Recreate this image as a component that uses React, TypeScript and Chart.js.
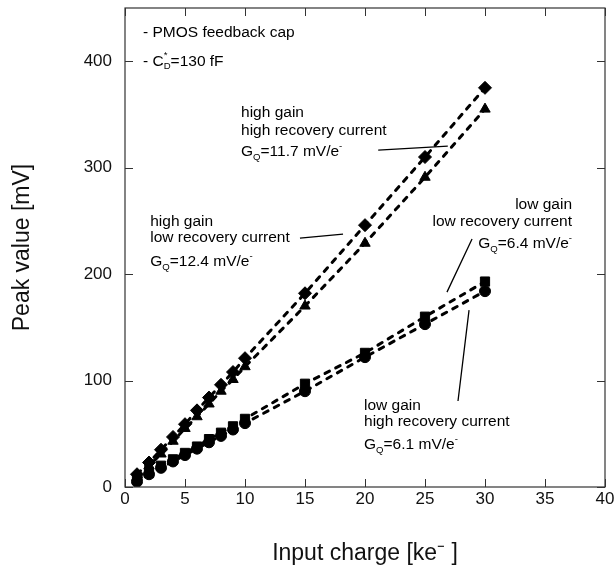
import React, { useEffect, useRef } from "react";
import { Chart, registerables } from "chart.js";

Chart.register(...registerables);

const FONT = "'Liberation Sans', Arial, Helvetica, sans-serif";

// Input charge [ke-]
const charge = [1, 2, 3, 4, 5, 6, 7, 8, 9, 10, 15, 20, 25, 30];
// high gain, low recovery current (diamonds)
const highGainLowRec = [12, 23, 35, 47, 59, 72, 84, 96, 108, 121, 182, 246, 310, 375];
// high gain, high recovery current (triangles)
const highGainHighRec = [9, 20, 31, 43, 55, 66, 78, 90, 101, 113, 170, 229, 291, 355];
// low gain, low recovery current (squares)
const lowGainLowRec = [7, 13, 20, 26, 32, 38, 45, 51, 57, 64, 97, 126, 160, 193];
// low gain, high recovery current (circles)
const lowGainHighRec = [5, 12, 18, 24, 30, 36, 42, 48, 54, 60, 90, 122, 153, 184];

const xTitle = "Input charge [ke\u207B ]";
const yTitle = "Peak value [mV]";

// annotation texts, anchored in data units
const noteTexts = [
  "- PMOS feedback cap",
  "- C_{D}^{*}=130 fF",
  "high gain",
  "high recovery current",
  "G_{Q}=11.7 mV/e^{-}",
  "high gain",
  "low recovery current",
  "G_{Q}=12.4 mV/e^{-}",
  "low gain",
  "low recovery current",
  "G_{Q}=6.4 mV/e^{-}",
  "low gain",
  "high recovery current",
  "G_{Q}=6.1 mV/e^{-}",
];
const noteX = [1.5, 1.5, 9.67, 9.67, 9.67, 2.1, 2.1, 2.1, 37.25, 37.25, 37.25, 19.92, 19.92, 19.92];
const noteY = [427, 400, 352, 335, 314.6, 248.8, 233.8, 211.3, 264.8, 248.8, 228.2, 76.1, 61, 39.4];
const noteAlign = ["left", "left", "left", "left", "left", "left", "left", "left", "right", "right", "right", "left", "left", "left"];

// pointer lines [x1, y1, x2, y2] in data units
const pointers = [
  [21.1, 316.4, 26.9, 320.2],
  [14.58, 233.8, 18.17, 237.6],
  [28.92, 232.9, 26.83, 183.1],
  [28.67, 166.2, 27.75, 80.8],
];

type Seg = { t: string; k: "n" | "sub" | "sup" };

function parseRich(s: string): Seg[] {
  const out: Seg[] = [];
  const re = /([_^])\{([^}]*)\}/g;
  let last = 0;
  let m: RegExpExecArray | null;
  while ((m = re.exec(s))) {
    if (m.index > last) out.push({ t: s.slice(last, m.index), k: "n" });
    out.push({ t: m[2], k: m[1] === "_" ? "sub" : "sup" });
    last = re.lastIndex;
  }
  if (last < s.length) out.push({ t: s.slice(last), k: "n" });
  return out;
}

function drawRich(ctx: CanvasRenderingContext2D, s: string, x: number, y: number, align: string, size: number) {
  const segs = parseRich(s);
  const items: { t: string; k: string; x: number; font: string }[] = [];
  let cx = 0;
  let subStart = 0;
  let subW = 0;
  segs.forEach((sg, i) => {
    const font = `${sg.k === "n" ? size : size * 0.62}px ${FONT}`;
    ctx.font = font;
    const w = ctx.measureText(sg.t).width;
    if (sg.k === "sup" && i > 0 && segs[i - 1].k === "sub") {
      items.push({ t: sg.t, k: sg.k, x: subStart, font });
      cx = subStart + Math.max(subW, w);
    } else {
      items.push({ t: sg.t, k: sg.k, x: cx, font });
      if (sg.k === "sub") {
        subStart = cx;
        subW = w;
      }
      cx += w;
    }
  });
  const x0 = align === "right" ? x - cx : x;
  ctx.textBaseline = "middle";
  ctx.textAlign = "left";
  ctx.fillStyle = "#000";
  items.forEach((it) => {
    ctx.font = it.font;
    const dy = it.k === "sub" ? size * 0.32 : it.k === "sup" ? -size * 0.36 : 0;
    ctx.fillText(it.t, x0 + it.x, y + dy);
  });
}

const framePlugin = {
  id: "frameTicks",
  afterDraw(chart: any) {
    const { ctx, chartArea: a, scales } = chart;
    const xs = scales.x;
    const ys = scales.y;
    const L = 8;
    ctx.save();
    ctx.strokeStyle = "#333";
    ctx.lineWidth = 1.2;
    ctx.strokeRect(a.left, a.top, a.right - a.left, a.bottom - a.top);
    ctx.lineWidth = 1;
    ctx.beginPath();
    xs.ticks.forEach((t: any) => {
      const px = Math.round(xs.getPixelForValue(t.value)) + 0.5;
      ctx.moveTo(px, a.bottom);
      ctx.lineTo(px, a.bottom - L);
      ctx.moveTo(px, a.top);
      ctx.lineTo(px, a.top + L);
    });
    ys.ticks.forEach((t: any) => {
      const py = Math.round(ys.getPixelForValue(t.value)) + 0.5;
      ctx.moveTo(a.left, py);
      ctx.lineTo(a.left + L, py);
      ctx.moveTo(a.right, py);
      ctx.lineTo(a.right - L, py);
    });
    ctx.stroke();

    // pointer lines
    ctx.strokeStyle = "#000";
    ctx.lineWidth = 1.3;
    ctx.beginPath();
    pointers.forEach((p) => {
      ctx.moveTo(xs.getPixelForValue(p[0]), ys.getPixelForValue(p[1]));
      ctx.lineTo(xs.getPixelForValue(p[2]), ys.getPixelForValue(p[3]));
    });
    ctx.stroke();

    // annotation texts
    noteTexts.forEach((t, i) => {
      drawRich(ctx, t, xs.getPixelForValue(noteX[i]), ys.getPixelForValue(noteY[i]), noteAlign[i], 15.5);
    });
    ctx.restore();
  },
};

function makeSeries(values: number[], style: string, radius: number) {
  return {
    data: charge.map((c, i) => ({ x: c, y: values[i] })),
    showLine: true,
    borderColor: "#000",
    backgroundColor: "#000",
    borderWidth: 3,
    borderDash: [5, 7],
    borderCapStyle: "round" as const,
    tension: 0,
    pointStyle: style,
    pointRadius: radius,
    pointBackgroundColor: "#000",
    pointBorderColor: "#000",
    pointBorderWidth: 1,
  };
}

export default function App() {
  const ref = useRef<HTMLCanvasElement | null>(null);

  useEffect(() => {
    if (!ref.current) return;
    const tickFont = { family: FONT, size: 17 };
    const titleFont = { family: FONT, size: 23 };
    const chart = new Chart(ref.current, {
      type: "line",
      data: {
        datasets: [
          makeSeries(lowGainLowRec, "rect", 6.5) as any,
          makeSeries(lowGainHighRec, "circle", 5.5) as any,
          makeSeries(highGainHighRec, "triangle", 6) as any,
          makeSeries(highGainLowRec, "rectRot", 6.5) as any,
        ],
      },
      options: {
        responsive: false,
        animation: false,
        layout: { padding: { top: 8, right: 10, left: 0, bottom: 0 } },
        plugins: { legend: { display: false }, tooltip: { enabled: false } },
        scales: {
          x: {
            type: "linear",
            min: 0,
            max: 40,
            ticks: { stepSize: 5, font: tickFont, color: "#111", padding: 2, maxRotation: 0 },
            grid: { display: false, drawTicks: false },
            border: { display: false },
            title: { display: true, text: xTitle, font: titleFont, color: "#111", padding: 5 },
            afterFit: (s: any) => {
              s.height = 85;
              s.paddingLeft = 0;
              s.paddingRight = 0;
            },
          },
          y: {
            type: "linear",
            min: 0,
            max: 450,
            ticks: { stepSize: 100, includeBounds: false, font: tickFont, color: "#111", padding: 13 },
            grid: { display: false, drawTicks: false },
            border: { display: false },
            title: { display: true, text: yTitle, font: titleFont, color: "#111", padding: 9 },
            afterFit: (s: any) => {
              s.width = 125;
              s.paddingTop = 0;
              s.paddingBottom = 0;
            },
          },
        },
      },
      plugins: [framePlugin],
    });
    return () => chart.destroy();
  }, []);

  return (
    <div style={{ position: "fixed", left: 0, top: 0, width: 615, height: 572, background: "#fff" }}>
      <canvas ref={ref} width={615} height={572} style={{ display: "block" }} />
    </div>
  );
}
